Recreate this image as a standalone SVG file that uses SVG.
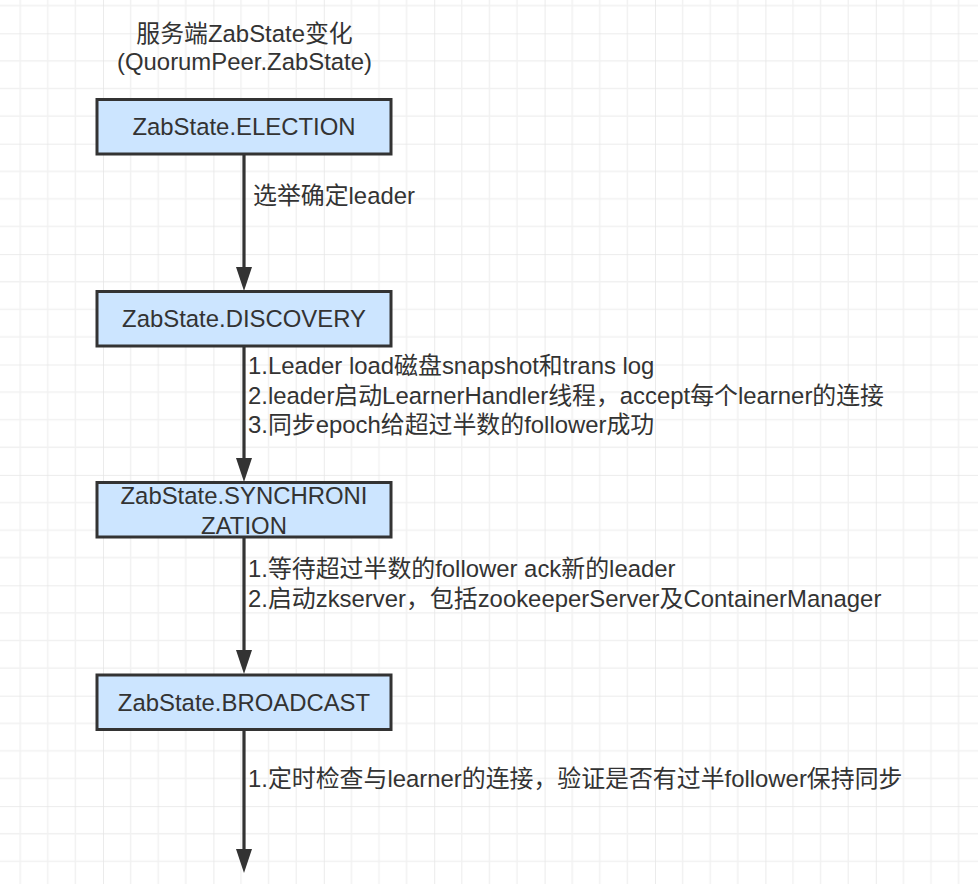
<svg xmlns="http://www.w3.org/2000/svg" width="978" height="884" viewBox="0 0 978 884">
<style>
.t{font-family:"Liberation Sans","Noto Sans CJK SC",sans-serif;font-size:23.9px;fill:#333333}
.c{text-anchor:middle}
.box{fill:#cce5ff;stroke:#333333;stroke-width:3}
.edge{fill:none;stroke:#333333;stroke-width:3.2;marker-end:url(#ah)}
</style>
<defs>
<pattern id="grid" patternUnits="userSpaceOnUse" x="103" y="33.3" width="110.4" height="110.4">
<path d="M27.6 0V110.4M55.2 0V110.4M82.8 0V110.4M0 27.6H110.4M0 55.2H110.4M0 82.8H110.4" stroke="#f1f1f1" stroke-width="1.4" fill="none"/>
<path d="M0 0V110.4M0 0H110.4" stroke="#e6e6e6" stroke-width="1.6" fill="none"/>
</pattern>
<marker id="ah" markerUnits="userSpaceOnUse" viewBox="0 -8 24 16" markerWidth="24" markerHeight="16" refX="14" refY="0" orient="auto">
<path d="M0,-8 L24,0 L0,8 Z" fill="#333333"/>
</marker>
</defs>
<rect width="978" height="884" fill="#ffffff"/>
<rect width="978" height="884" fill="url(#grid)"/>
<g id="title">
<text class="t c" x="244.5" y="41.7">服务端ZabState变化</text>
<text class="t c" x="244.5" y="70">(QuorumPeer.ZabState)</text>
</g>
<g id="connectors">
<path class="edge" d="M244 154V281"/>
<path class="edge" d="M244 346V472"/>
<path class="edge" d="M244 537V664"/>
<path class="edge" d="M244 730V863"/>
<text class="t" x="253" y="203.8">选举确定leader</text>
<text class="t" x="248" y="373.8">1.Leader load磁盘snapshot和trans log</text>
<text class="t" x="248" y="403.5">2.leader启动LearnerHandler线程，accept每个learner的连接</text>
<text class="t" x="248" y="432.5">3.同步epoch给超过半数的follower成功</text>
<text class="t" x="248" y="577.2">1.等待超过半数的follower ack新的leader</text>
<text class="t" x="248" y="607.2">2.启动zkserver，包括zookeeperServer及ContainerManager</text>
<text class="t" x="248" y="787.2">1.定时检查与learner的连接，验证是否有过半follower保持同步</text>
</g>
<g id="node-election">
<rect class="box" x="97" y="99.5" width="294" height="54.5"/>
<text class="t c" x="244" y="135.3">ZabState.ELECTION</text>
</g>
<g id="node-discovery">
<rect class="box" x="97" y="291.5" width="294" height="54.5"/>
<text class="t c" x="244" y="327">ZabState.DISCOVERY</text>
</g>
<g id="node-synchronization">
<rect class="box" x="97" y="482.5" width="294" height="54.5"/>
<text class="t c" x="244" y="503.6">ZabState.SYNCHRONI</text>
<text class="t c" x="244" y="533.6">ZATION</text>
</g>
<g id="node-broadcast">
<rect class="box" x="97" y="675" width="294" height="54.5"/>
<text class="t c" x="244" y="711">ZabState.BROADCAST</text>
</g>
</svg>
